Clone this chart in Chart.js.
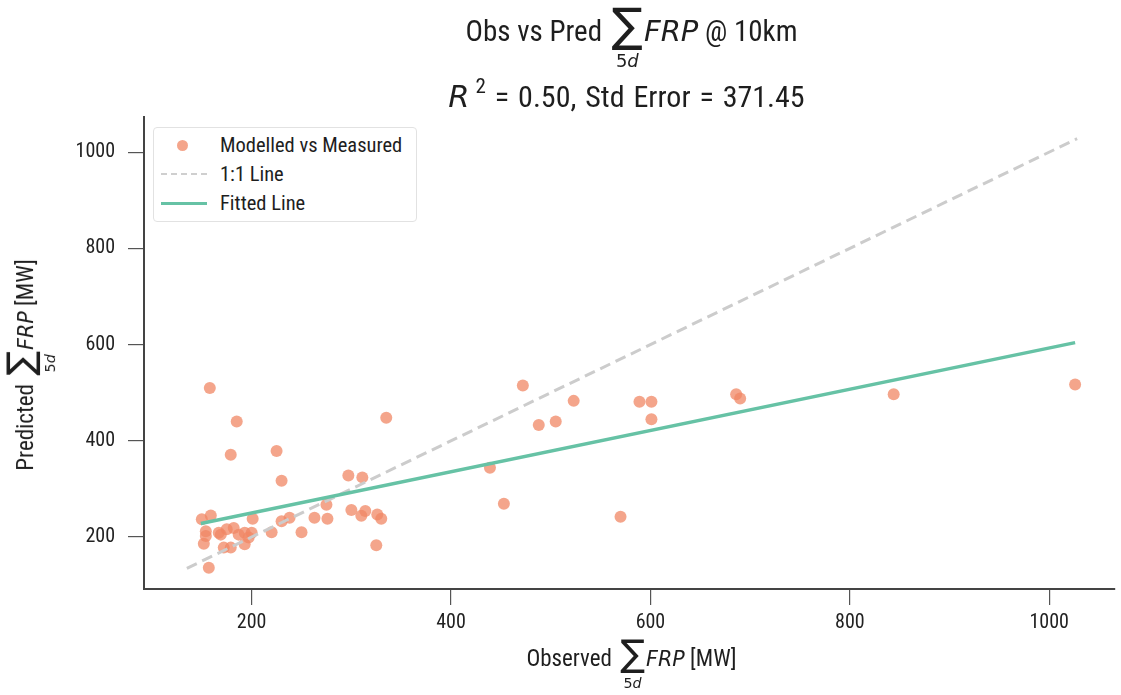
<!DOCTYPE html>
<html lang="en">
<head>
    <meta charset="UTF-8">
    <title>Obs vs Pred FRP @ 10km</title>
    <script src="https://cdn.jsdelivr.net/npm/chart.js"></script>
    <style>
        body { margin: 0; background: #fff; }
        #wrap { position: relative; width: 1121px; height: 695px; font-family: "Roboto Condensed", "Liberation Sans Narrow", Roboto, sans-serif; color: #1e1e1e; }
        .lbl { position: absolute; white-space: nowrap; text-align: center; }
        /* matplotlib-ish mathtext: sum with 5d below it, italic FRP */
        .m { display: inline-flex; flex-direction: column; align-items: center; font-family: "DejaVu Sans", sans-serif; margin: 0 1px 0 3px; }
        .sg { font-size: 1.6em; line-height: 1em; }
        .lim { font-size: 0.62em; line-height: 1; margin-top: 0.2em; }
        .it { font-family: "DejaVu Sans", sans-serif; font-style: oblique; }
        #legend { position: absolute; left: 153px; top: 127px; width: 262px; height: 93px; border: 1px solid #e2e2e2; border-radius: 4px; background: #fff; font-size: 20.5px; }
        .row { position: absolute; left: 0; height: 24px; line-height: 24px; width: 100%; }
        .row span.txt { position: absolute; left: 66px; }
        .dot { position: absolute; left: 23px; top: 7px; width: 11px; height: 11px; border-radius: 50%; background: rgba(240,135,100,0.75); }
        .dash { position: absolute; left: 7px; top: 11px; width: 46px; height: 0; border-top: 2.5px dashed #cfcfcf; }
        .solid { position: absolute; left: 7px; top: 11px; width: 46px; height: 3px; background: #66c2a5; }
    </style>
</head>
<body>
<div id="wrap">
    <canvas id="chart" width="1121" height="695"></canvas>

    <div class="lbl" style="left:145px; width:973px; top:2px; font-size:29px; line-height:28px;">
        Obs vs Pred <span class="m"><span class="sg">&sum;</span><span class="lim">5<i>d</i></span></span><span class="it">FRP</span> @ 10km
    </div>
    <div class="lbl" style="left:140px; width:973px; top:75px; font-size:30px; line-height:28px; word-spacing:2px;">
        <span class="it" style="font-size:1.02em">R</span><sup style="font-size:0.7em; position:relative; top:-0.15em; margin-left:6px;">2</sup> = 0.50, Std Error = 371.45
    </div>

    <div class="lbl" style="left:145px; width:973px; top:636px; font-size:23px; line-height:24px;">
        Observed <span class="m"><span class="sg">&sum;</span><span class="lim">5<i>d</i></span></span><span class="it" style="font-size:0.9em">FRP</span> [MW]
    </div>
    <div class="lbl" style="left:-100px; width:260px; top:338px; font-size:23px; line-height:24px; transform: rotate(-90deg);">
        Predicted <span class="m"><span class="sg">&sum;</span><span class="lim">5<i>d</i></span></span><span class="it" style="font-size:0.9em">FRP</span> [MW]
    </div>

    <div id="legend">
        <div class="row" style="top:5px;"><div class="dot"></div><span class="txt">Modelled vs Measured</span></div>
        <div class="row" style="top:34px;"><div class="dash"></div><span class="txt">1:1 Line</span></div>
        <div class="row" style="top:63px;"><div class="solid"></div><span class="txt">Fitted Line</span></div>
    </div>
</div>

<script>
    const obsX = [158, 185, 335, 179, 225, 230, 297, 311, 275, 300,
                  314, 310, 326, 330, 325, 263, 276, 250, 220, 201,
                  230, 238, 150, 159, 154, 154, 152, 157, 169, 175,
                  182, 187, 193, 200, 197, 193, 172, 179, 167, 472,
                  523, 488, 505, 589, 601, 601, 439, 453, 570, 686,
                  690, 844, 1026];
    const predY = [510, 440, 448, 371, 379, 317, 328, 324, 267, 256,
                   254, 244, 247, 238, 183, 240, 238, 210, 210, 238,
                   233, 240, 237, 245, 212, 202, 186, 136, 205, 216,
                   219, 205, 209, 209, 199, 185, 178, 178, 209, 515,
                   483, 433, 440, 481, 481, 445, 344, 269, 242, 497,
                   488, 497, 517];

    // line end points
    const oneToOneX = [135, 1028];
    const oneToOneY = [135, 1028];
    const fitX = [149, 1026];
    const fitY = [228, 604];

    const xTicks = [200, 400, 600, 800, 1000];
    const yTicks = [200, 400, 600, 800, 1000];

    const pts = (xs, ys) => xs.map((x, i) => ({ x: x, y: ys[i] }));
    const tickFont = { family: '"Roboto Condensed", "Liberation Sans Narrow", Roboto, sans-serif', size: 20 };

    new Chart(document.getElementById('chart'), {
        type: 'scatter',
        data: {
            datasets: [
                {
                    label: 'Fitted Line',
                    data: pts(fitX, fitY),
                    showLine: true,
                    borderColor: '#66c2a5',
                    borderWidth: 3.5,
                    pointRadius: 0,
                    order: 1
                },
                {
                    label: '1:1 Line',
                    data: pts(oneToOneX, oneToOneY),
                    showLine: true,
                    borderColor: '#cccccc',
                    borderWidth: 3,
                    borderDash: [11, 6],
                    pointRadius: 0,
                    order: 2
                },
                {
                    label: 'Modelled vs Measured',
                    data: pts(obsX, predY),
                    backgroundColor: 'rgba(240,135,100,0.75)',
                    borderWidth: 0,
                    pointRadius: 6,
                    order: 3
                }
            ]
        },
        options: {
            responsive: false,
            animation: false,
            layout: { padding: { left: 0, top: 117, right: 3, bottom: 0 } },
            plugins: {
                legend: { display: false },
                tooltip: { enabled: false }
            },
            scales: {
                x: {
                    type: 'linear',
                    min: 92,
                    max: 1066,
                    afterBuildTicks: s => { s.ticks = xTicks.map(v => ({ value: v })); },
                    afterFit: s => { s.height = 106; },
                    grid: { drawOnChartArea: false, drawTicks: true, tickLength: 16, color: '#555', lineWidth: 1.2 },
                    border: { display: true, color: '#444', width: 2 },
                    ticks: { font: tickFont, color: '#222', padding: 6, maxRotation: 0, callback: v => String(v) }
                },
                y: {
                    type: 'linear',
                    min: 92,
                    max: 1073,
                    afterBuildTicks: s => { s.ticks = yTicks.map(v => ({ value: v })); },
                    afterFit: s => { s.width = 144; },
                    grid: { drawOnChartArea: false, drawTicks: true, tickLength: 16, color: '#555', lineWidth: 1.2 },
                    border: { display: true, color: '#444', width: 2 },
                    ticks: { font: tickFont, color: '#222', padding: 13, callback: v => String(v) }
                }
            }
        }
    });
</script>
</body>
</html>
